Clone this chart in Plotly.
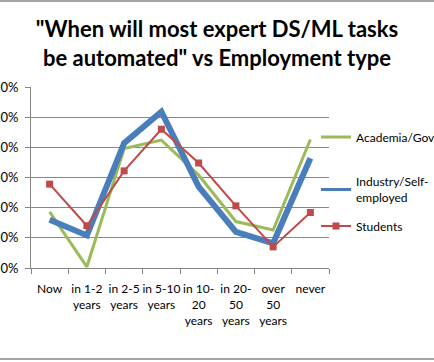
import plotly.graph_objects as go

categories = ["Now", "in 1-2<br>years", "in 2-5<br>years", "in 5-10<br>years",
              "in 10-<br>20<br>years", "in 20-<br>50<br>years", "over<br>50<br>years", "never"]
academia = [9.3, 0.2, 19.8, 21.2, 15.4, 7.7, 6.3, 21.3]
industry = [8.0, 5.4, 20.7, 25.9, 13.5, 6.0, 4.1, 18.2]
students = [13.9, 7.0, 16.1, 23.0, 17.4, 10.3, 3.5, 9.2]
y_ticks = [0, 5, 10, 15, 20, 25, 30]

FONT = "Lato"
GREEN, BLUE, RED = "#9BBB59", "#4A7EBB", "#BE4B48"
fig = go.Figure()
fig.add_trace(go.Scatter(x=categories, y=academia, mode="lines", name="Academia/Gov",
                         line=dict(color=GREEN, width=3), legend="legend"))
fig.add_trace(go.Scatter(x=categories, y=industry, mode="lines", name="Industry/Self-<br>employed",
                         line=dict(color=BLUE, width=6), showlegend=False))
# legend-only entry for the industry series (thinner legend swatch, as in the original)
fig.add_trace(go.Scatter(x=[None], y=[None], mode="lines", name="Industry/Self-<br>employed",
                         line=dict(color=BLUE, width=3), legend="legend2"))
fig.add_trace(go.Scatter(x=categories, y=students, mode="lines+markers", name="Students",
                         line=dict(color=RED, width=2),
                         marker=dict(symbol="square", size=7, color=RED), legend="legend3"))

L, R, T, B = 31, 105, 87, 94
pw, ph = 434 - L - R, 362 - T - B

def lx(px):
    return (px - L) / pw

def ly(py):
    return (362 - B - py) / ph

legend_common = dict(bgcolor="rgba(0,0,0,0)", font=dict(family=FONT, size=12, color="#000"),
                     xanchor="left", yanchor="middle", itemwidth=30)
fig.update_layout(
    width=434, height=362,
    showlegend=True,
    margin=dict(l=L, r=R, t=T, b=B, autoexpand=False),
    paper_bgcolor="white", plot_bgcolor="white",
    font=dict(family=FONT, color="#000"),
    title=dict(text="\"When will most expert DS/ML tasks<br>be automated\" vs Employment type",
               x=0.5, xanchor="center", xref="container",
               y=1 - 37 / 362, yanchor="top", yref="container",
               font=dict(family=FONT, size=22, color="#000", weight="bold")),
    legend=dict(x=lx(316), y=ly(137), **legend_common),
    legend2=dict(x=lx(316), y=ly(190), **legend_common),
    legend3=dict(x=lx(316), y=ly(226), **legend_common),
    hovermode=False,
    xaxis=dict(type="category", range=[-0.5, 7.5], showgrid=False,
               showline=True, linecolor="#868686", linewidth=1,
               ticks="outside", tickson="boundaries", ticklen=5, tickcolor="#868686",
               ticklabelstandoff=10,
               tickfont=dict(family=FONT, size=12, color="#000"), tickangle=0, automargin=False),
    yaxis=dict(range=[0, 30], tickvals=y_ticks, ticktext=[f"{v:.1f}%" for v in y_ticks],
               showgrid=True, gridcolor="#868686", gridwidth=1,
               showline=True, linecolor="#868686", linewidth=1,
               ticks="outside", ticklen=5, tickcolor="#868686", zeroline=False,
               ticklabelstandoff=4,
               tickfont=dict(family=FONT, size=13, color="#000"), automargin=False),
    shapes=[
        dict(type="line", xref="paper", yref="paper", x0=-0.2, x1=1.5, y0=ly(1), y1=ly(1),
             line=dict(color="#868686", width=1.5)),
        dict(type="line", xref="paper", yref="paper", x0=-0.2, x1=1.5, y0=ly(359), y1=ly(359),
             line=dict(color="#868686", width=1.5)),
    ],
)
fig.write_html("out.html", config={"displayModeBar": False},
               post_script="document.body.style.margin='0';")
